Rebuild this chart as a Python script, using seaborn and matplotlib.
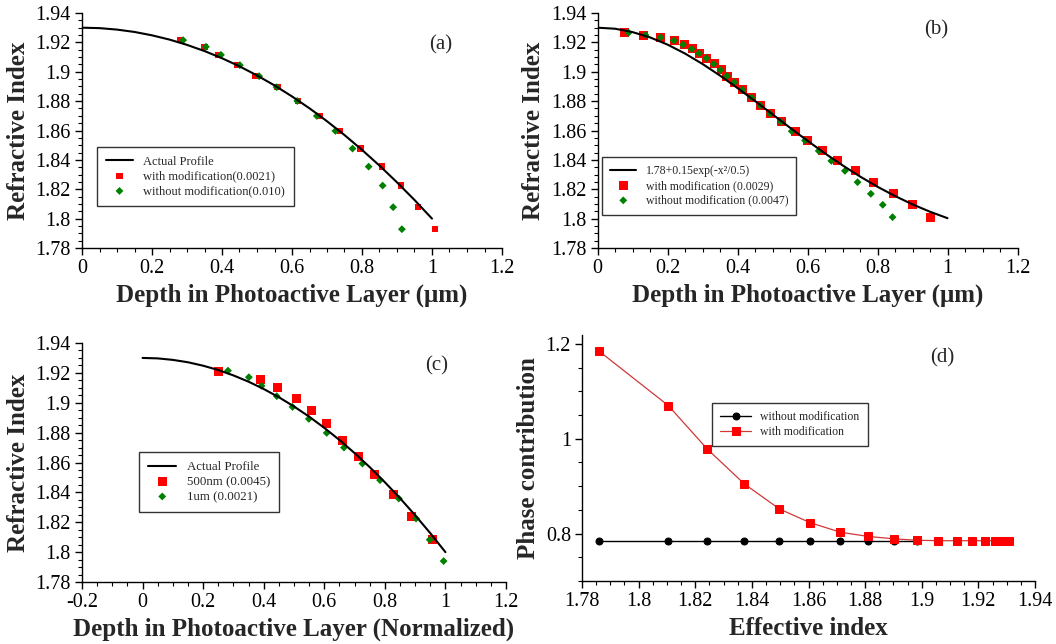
import matplotlib
matplotlib.use("Agg")
import matplotlib.pyplot as plt
from matplotlib.ticker import MultipleLocator, FuncFormatter
import seaborn as sns

# ---------------- data ----------------
# reference refractive-index profiles sampled along the depth
depth_grid = [0.00, 0.05, 0.10, 0.15, 0.20, 0.25, 0.30, 0.35, 0.40, 0.45, 0.50,
              0.55, 0.60, 0.65, 0.70, 0.75, 0.80, 0.85, 0.90, 0.95, 1.00]
profile_actual = [1.9300, 1.9297, 1.9287, 1.9271, 1.9248, 1.9219, 1.9183, 1.9141,
                  1.9092, 1.9037, 1.8975, 1.8907, 1.8832, 1.8751, 1.8663, 1.8569,
                  1.8468, 1.8361, 1.8247, 1.8127, 1.8000]
profile_gauss = [1.9300, 1.9293, 1.9270, 1.9234, 1.9185, 1.9124, 1.9053, 1.8974,
                 1.8889, 1.8801, 1.8710, 1.8619, 1.8530, 1.8444, 1.8363, 1.8287,
                 1.8217, 1.8154, 1.8097, 1.8047, 1.8003]

# (a) reconstructed profile, physical depth
a_index = [1.9215, 1.9170, 1.9115, 1.9045, 1.8970, 1.8895, 1.8801, 1.8699, 1.8597,
           1.8477, 1.8354, 1.8225, 1.8078, 1.7928]
a_with_depth = [0.280, 0.350, 0.390, 0.443, 0.495, 0.558, 0.617, 0.678, 0.737,
                0.796, 0.857, 0.912, 0.960, 1.008]
a_without_depth = [0.289, 0.354, 0.397, 0.451, 0.506, 0.556, 0.615, 0.671, 0.724,
                   0.773, 0.819, 0.859, 0.889, 0.914]

# (b) gaussian profile
b_index = [1.9266, 1.9250, 1.9234, 1.9212, 1.9185, 1.9155, 1.9126, 1.9092, 1.9053,
           1.9012, 1.8971, 1.8928, 1.8876, 1.8824, 1.8770, 1.8715, 1.8659, 1.8595,
           1.8532, 1.8461, 1.8393, 1.8325, 1.8248, 1.8169, 1.8094, 1.8010]
b_with_depth = [0.076, 0.131, 0.181, 0.219, 0.249, 0.272, 0.292, 0.312, 0.333,
                0.353, 0.370, 0.391, 0.415, 0.441, 0.466, 0.495, 0.527, 0.565,
                0.601, 0.643, 0.686, 0.736, 0.789, 0.845, 0.901, 0.952]
b_without_depth = [0.089, 0.137, 0.180, 0.218, 0.244, 0.269, 0.290, 0.311, 0.332,
                   0.351, 0.370, 0.391, 0.414, 0.440, 0.465, 0.493, 0.524, 0.555,
                   0.593, 0.632, 0.668, 0.707, 0.743, 0.781, 0.815, 0.843]

# (c) normalized depth, two layer thicknesses
c_500_depth = [0.250, 0.388, 0.447, 0.507, 0.558, 0.606, 0.660, 0.712, 0.766,
               0.828, 0.887, 0.956]
c_500_index = [1.9206, 1.9155, 1.9101, 1.9026, 1.8948, 1.8859, 1.8747, 1.8638,
               1.8517, 1.8384, 1.8238, 1.8083]
c_1um_depth = [0.282, 0.351, 0.393, 0.443, 0.495, 0.549, 0.608, 0.665, 0.726,
               0.784, 0.846, 0.903, 0.948, 0.994]
c_1um_index = [1.9215, 1.9171, 1.9113, 1.9044, 1.8972, 1.8892, 1.8798, 1.8700,
               1.8593, 1.8482, 1.8359, 1.8225, 1.8083, 1.7940]

# (d) phase contribution vs effective index
d_neff = [1.786, 1.8105, 1.8243, 1.8373, 1.8497, 1.8606, 1.8712, 1.8811, 1.8902,
          1.8982, 1.9058, 1.9124, 1.9176, 1.9225, 1.9260, 1.9285, 1.9308]
d_with_phase = [1.185, 1.070, 0.978, 0.905, 0.852, 0.823, 0.803, 0.794, 0.789,
                0.786, 0.785, 0.785, 0.785, 0.785, 0.785, 0.785, 0.785]
d_without_neff = d_neff[:10]
d_without_phase = [0.785] * 10

# ---------------- style ----------------
sns.set_theme(style="ticks")
plt.rcParams["font.family"] = ["Liberation Serif", "DejaVu Serif"]
plt.rcParams["axes.edgecolor"] = "black"
plt.rcParams["axes.linewidth"] = 1.0

W, H = 1056, 644
fig = plt.figure(figsize=(W / 100, H / 100), dpi=100)
fig.patch.set_facecolor("white")


def box(left, top, right, bottom):
    return [left / W, 1 - bottom / H, (right - left) / W, (bottom - top) / H]


fmt = FuncFormatter(lambda v, p: f"{v:g}")
RED = "#ff0000"
GREEN = "#008000"


def style_axes(ax, xmaj, xmin, ymaj, ymin):
    sns.despine(ax=ax)
    ax.xaxis.set_major_locator(MultipleLocator(xmaj))
    ax.xaxis.set_minor_locator(MultipleLocator(xmin))
    ax.yaxis.set_major_locator(MultipleLocator(ymaj))
    ax.yaxis.set_minor_locator(MultipleLocator(ymin))
    ax.xaxis.set_major_formatter(fmt)
    ax.yaxis.set_major_formatter(fmt)
    ax.tick_params(which="major", direction="out", length=5, width=1,
                   labelsize=14.5, colors="black", pad=3)
    ax.tick_params(which="minor", direction="out", length=3, width=0.8,
                   colors="black")
    ax.set_facecolor("white")


def legend_at(ax, left, top, size=8.5, handlelength=2.2):
    leg = ax.legend(loc="upper left", bbox_to_anchor=(left / W, 1 - top / H),
                    bbox_transform=fig.transFigure, borderaxespad=0,
                    fontsize=size, frameon=True, fancybox=False, framealpha=1,
                    edgecolor="#333333", handlelength=handlelength,
                    handletextpad=0.8, borderpad=0.7, labelspacing=0.22)
    leg.get_frame().set_linewidth(1.0)
    return leg


label_kw = dict(fontsize=18, fontweight="bold")

# ---------------- (a) ----------------
ax_a = fig.add_axes(box(82, 13, 502, 248))
sns.lineplot(x=depth_grid, y=profile_actual, ax=ax_a, color="black", lw=1.5,
             sort=False, estimator=None, label="Actual Profile")
sns.scatterplot(x=a_with_depth, y=a_index, ax=ax_a, marker="s", color=RED, s=22,
                edgecolor="none", label="with modification(0.0021)")
sns.scatterplot(x=a_without_depth, y=a_index, ax=ax_a, marker="D", color=GREEN, s=16,
                edgecolor="none", label="without modification(0.010)")
ax_a.set_xlim(0, 1.2)
ax_a.set_ylim(1.78, 1.94)
style_axes(ax_a, 0.2, 0.05, 0.02, 0.005)
ax_a.set_xlabel("Depth in Photoactive Layer (μm)", **label_kw)
ax_a.set_ylabel("Refractive Index", **label_kw)
legend_at(ax_a, 97, 147, size=9)
fig.text(441 / W, 1 - 45 / H, "(a)", ha="center", va="center", fontsize=15)

# ---------------- (b) ----------------
ax_b = fig.add_axes(box(597.5, 13, 1017.5, 248))
sns.lineplot(x=depth_grid, y=profile_gauss, ax=ax_b, color="black", lw=1.5,
             sort=False, estimator=None, label="1.78+0.15exp(-x²/0.5)")
sns.scatterplot(x=b_with_depth, y=b_index, ax=ax_b, marker="s", color=RED, s=42,
                edgecolor="none", label="with modification (0.0029)")
sns.scatterplot(x=b_without_depth, y=b_index, ax=ax_b, marker="D", color=GREEN, s=16,
                edgecolor="none", label="without modification (0.0047)")
ax_b.set_xlim(0, 1.2)
ax_b.set_ylim(1.78, 1.94)
style_axes(ax_b, 0.2, 0.05, 0.02, 0.005)
ax_b.set_xlabel("Depth in Photoactive Layer (μm)", **label_kw)
ax_b.set_ylabel("Refractive Index", **label_kw)
legend_at(ax_b, 602, 157)
fig.text(936 / W, 1 - 30 / H, "(b)", ha="center", va="center", fontsize=15)

# ---------------- (c) ----------------
ax_c = fig.add_axes(box(82, 343, 506, 582))
sns.lineplot(x=depth_grid, y=profile_actual, ax=ax_c, color="black", lw=1.5,
             sort=False, estimator=None, label="Actual Profile")
sns.scatterplot(x=c_500_depth, y=c_500_index, ax=ax_c, marker="s", color=RED, s=42,
                edgecolor="none", label="500nm (0.0045)")
sns.scatterplot(x=c_1um_depth, y=c_1um_index, ax=ax_c, marker="D", color=GREEN, s=16,
                edgecolor="none", label="1um (0.0021)")
ax_c.set_xlim(-0.2, 1.2)
ax_c.set_ylim(1.78, 1.94)
style_axes(ax_c, 0.2, 0.05, 0.02, 0.005)
ax_c.set_xlabel("Depth in Photoactive Layer (Normalized)", **label_kw)
ax_c.set_ylabel("Refractive Index", **label_kw)
legend_at(ax_c, 139, 452, size=9.3)
fig.text(437 / W, 1 - 366 / H, "(c)", ha="center", va="center", fontsize=15)

# ---------------- (d) ----------------
ax_d = fig.add_axes(box(582, 334.5, 1035, 581))
sns.lineplot(x=d_without_neff, y=d_without_phase, ax=ax_d, color="black", lw=1.0,
             sort=False, estimator=None, marker="o", markersize=5,
             markeredgecolor="black", markerfacecolor="black",
             label="without modification")
sns.lineplot(x=d_neff, y=d_with_phase, ax=ax_d, color="#d03838", lw=0.9,
             sort=False, estimator=None, marker="s", markersize=5.5,
             markeredgecolor=RED, markerfacecolor=RED,
             label="with modification")
ax_d.set_xlim(1.78, 1.94)
ax_d.set_ylim(0.7, 1.22)
style_axes(ax_d, 0.02, 0.005, 0.2, 0.05)
ax_d.set_xlabel("Effective index", **label_kw)
ax_d.set_ylabel("Phase contribution", **label_kw)
legend_at(ax_d, 712, 403, handlelength=2.6)
fig.text(942 / W, 1 - 358 / H, "(d)", ha="center", va="center", fontsize=15)

fig.savefig("out.png", dpi=100, facecolor="white")
